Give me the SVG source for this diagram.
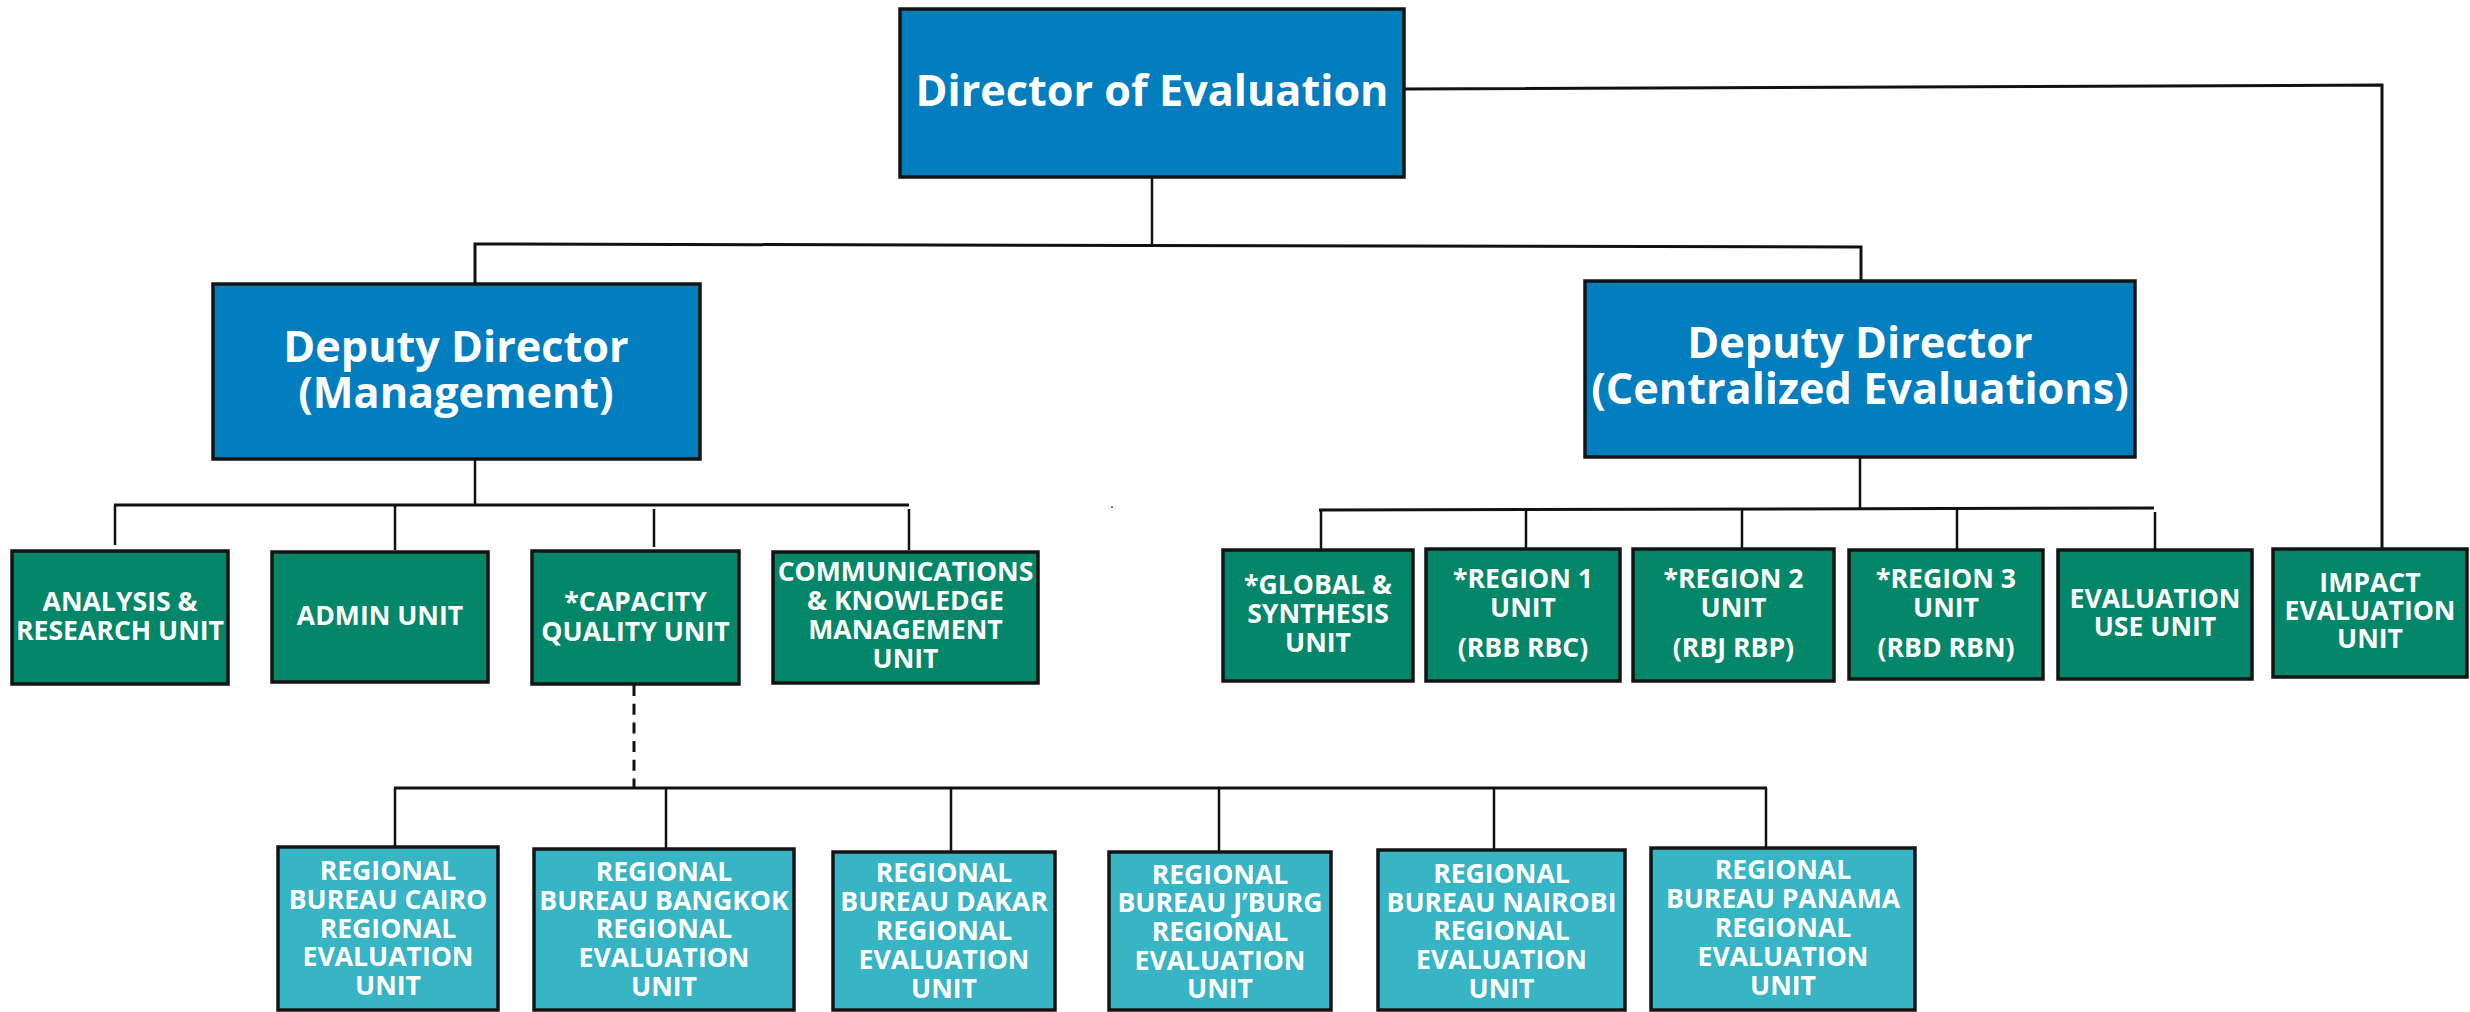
<svg xmlns="http://www.w3.org/2000/svg" width="2470" height="1012" viewBox="0 0 2470 1012">
<style>
.box{stroke:#141414;stroke-width:3.5}
.blue{fill:#027DBD}
.green{fill:#038768}
.teal{fill:#37B5C5}
text{font-family:"Open Sans","Noto Sans","Liberation Sans",sans-serif;font-weight:700;fill:#ffffff;text-anchor:middle}
.big{font-size:43.2px}
.sm{font-size:26.6px}
.ln{fill:none;stroke:#111;stroke-width:3}
.tk{fill:none;stroke:#111;stroke-width:2.5}
.dash{fill:none;stroke:#111;stroke-width:3;stroke-dasharray:11 7.7}
</style>
<rect width="2470" height="1012" fill="#ffffff"/>
<g id="connectors">
<polyline class="ln" points="1404,89 2382,85 2382,549"/>
<line class="tk" x1="1152" y1="177" x2="1152" y2="246"/>
<polyline class="ln" points="475,284 475,244 1861,247 1861,280"/>
<line class="tk" x1="475" y1="459" x2="475" y2="505"/>
<line class="ln" x1="114" y1="505" x2="909" y2="505"/>
<line class="tk" x1="115" y1="505" x2="115" y2="545"/>
<line class="tk" x1="395" y1="505" x2="395" y2="550"/>
<line class="tk" x1="654" y1="509" x2="654" y2="547"/>
<line class="tk" x1="909" y1="509" x2="909" y2="550"/>
<line class="tk" x1="1860" y1="457" x2="1860" y2="509"/>
<line class="ln" x1="1319" y1="510" x2="2154" y2="508"/>
<line class="tk" x1="1321" y1="510" x2="1321" y2="549"/>
<line class="tk" x1="1526" y1="510" x2="1526" y2="549"/>
<line class="tk" x1="1742" y1="509" x2="1742" y2="549"/>
<line class="tk" x1="1957" y1="509" x2="1957" y2="550"/>
<line class="tk" x1="2155" y1="512" x2="2155" y2="550"/>
<line class="dash" x1="634" y1="685" x2="634" y2="787"/>
<line class="ln" x1="394" y1="788" x2="1767" y2="788"/>
<line class="tk" x1="395" y1="788" x2="395" y2="847"/>
<line class="tk" x1="666" y1="788" x2="666" y2="849"/>
<line class="tk" x1="951" y1="788" x2="951" y2="852"/>
<line class="tk" x1="1219" y1="788" x2="1219" y2="852"/>
<line class="tk" x1="1494" y1="788" x2="1494" y2="850"/>
<line class="tk" x1="1766" y1="788" x2="1766" y2="848"/>
<rect x="1111" y="506" width="2" height="2" fill="#777"/>
</g>
<g id="director"><rect class="box blue" x="900" y="9" width="504" height="168"/><text class="big" x="1152" y="106">Director of Evaluation</text></g>
<g id="deputy-management"><rect class="box blue" x="213" y="284" width="487" height="175"/><text class="big" x="456" y="362">Deputy Director</text><text class="big" x="456" y="408">(Management)</text></g>
<g id="deputy-centralized"><rect class="box blue" x="1585" y="281" width="550" height="176"/><text class="big" x="1860" y="358">Deputy Director</text><text class="big" x="1860" y="404">(Centralized Evaluations)</text></g>
<g id="analysis"><rect class="box green" x="12" y="551" width="216" height="133"/><text class="sm" x="120" y="611">ANALYSIS &amp;</text><text class="sm" x="120" y="640">RESEARCH UNIT</text></g>
<g id="admin"><rect class="box green" x="272" y="552" width="216" height="130"/><text class="sm" x="380" y="625">ADMIN UNIT</text></g>
<g id="capacity"><rect class="box green" x="532" y="551" width="207" height="133"/><text class="sm" x="635.5" y="611">*CAPACITY</text><text class="sm" x="635.5" y="641">QUALITY UNIT</text></g>
<g id="communications"><rect class="box green" x="773" y="552" width="265" height="131"/><text class="sm" x="905.5" y="581">COMMUNICATIONS</text><text class="sm" x="905.5" y="610">&amp; KNOWLEDGE</text><text class="sm" x="905.5" y="639">MANAGEMENT</text><text class="sm" x="905.5" y="668">UNIT</text></g>
<g id="global"><rect class="box green" x="1223" y="550" width="190" height="131"/><text class="sm" x="1318" y="594">*GLOBAL &amp;</text><text class="sm" x="1318" y="623">SYNTHESIS</text><text class="sm" x="1318" y="652">UNIT</text></g>
<g id="region1"><rect class="box green" x="1426" y="549" width="194" height="132"/><text class="sm" x="1523" y="588">*REGION 1</text><text class="sm" x="1523" y="617">UNIT</text><text class="sm" x="1523" y="657">(RBB RBC)</text></g>
<g id="region2"><rect class="box green" x="1633" y="549" width="201" height="132"/><text class="sm" x="1733.5" y="588">*REGION 2</text><text class="sm" x="1733.5" y="617">UNIT</text><text class="sm" x="1733.5" y="657">(RBJ RBP)</text></g>
<g id="region3"><rect class="box green" x="1849" y="550" width="194" height="129"/><text class="sm" x="1946" y="588">*REGION 3</text><text class="sm" x="1946" y="617">UNIT</text><text class="sm" x="1946" y="657">(RBD RBN)</text></g>
<g id="evaluation-use"><rect class="box green" x="2058" y="550" width="194" height="129"/><text class="sm" x="2155" y="608">EVALUATION</text><text class="sm" x="2155" y="636">USE UNIT</text></g>
<g id="impact"><rect class="box green" x="2273" y="549" width="194" height="128"/><text class="sm" x="2370" y="592">IMPACT</text><text class="sm" x="2370" y="620">EVALUATION</text><text class="sm" x="2370" y="648">UNIT</text></g>
<g id="cairo"><rect class="box teal" x="278" y="847" width="220" height="163"/><text class="sm" x="388" y="880">REGIONAL</text><text class="sm" x="388" y="909">BUREAU CAIRO</text><text class="sm" x="388" y="938">REGIONAL</text><text class="sm" x="388" y="966">EVALUATION</text><text class="sm" x="388" y="995">UNIT</text></g>
<g id="bangkok"><rect class="box teal" x="534" y="849" width="260" height="161"/><text class="sm" x="664" y="881">REGIONAL</text><text class="sm" x="664" y="910">BUREAU BANGKOK</text><text class="sm" x="664" y="938">REGIONAL</text><text class="sm" x="664" y="967">EVALUATION</text><text class="sm" x="664" y="996">UNIT</text></g>
<g id="dakar"><rect class="box teal" x="833" y="852" width="222" height="158"/><text class="sm" x="944" y="882">REGIONAL</text><text class="sm" x="944" y="911">BUREAU DAKAR</text><text class="sm" x="944" y="940">REGIONAL</text><text class="sm" x="944" y="969">EVALUATION</text><text class="sm" x="944" y="998">UNIT</text></g>
<g id="jburg"><rect class="box teal" x="1109" y="852" width="222" height="158"/><text class="sm" x="1220" y="884">REGIONAL</text><text class="sm" x="1220" y="912">BUREAU J’BURG</text><text class="sm" x="1220" y="941">REGIONAL</text><text class="sm" x="1220" y="970">EVALUATION</text><text class="sm" x="1220" y="998">UNIT</text></g>
<g id="nairobi"><rect class="box teal" x="1378" y="850" width="247" height="160"/><text class="sm" x="1501.5" y="883">REGIONAL</text><text class="sm" x="1501.5" y="912">BUREAU NAIROBI</text><text class="sm" x="1501.5" y="940">REGIONAL</text><text class="sm" x="1501.5" y="969">EVALUATION</text><text class="sm" x="1501.5" y="998">UNIT</text></g>
<g id="panama"><rect class="box teal" x="1651" y="848" width="264" height="162"/><text class="sm" x="1783" y="879">REGIONAL</text><text class="sm" x="1783" y="908">BUREAU PANAMA</text><text class="sm" x="1783" y="937">REGIONAL</text><text class="sm" x="1783" y="966">EVALUATION</text><text class="sm" x="1783" y="995">UNIT</text></g>
</svg>
